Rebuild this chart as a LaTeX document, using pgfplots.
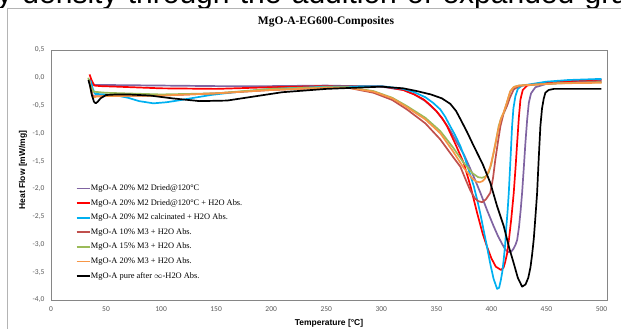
\documentclass[border=0pt]{standalone}
\usepackage{fontspec}
\setmainfont{Liberation Serif}
\newfontfamily\carlito{Carlito}
\newfontfamily\arial{Liberation Sans}
\usepackage{pgfplots}
\pgfplotsset{compat=1.18}
\definecolor{cpurple}{HTML}{8064A2}
\definecolor{cred}{HTML}{FF0000}
\definecolor{cblue}{HTML}{00B0F0}
\definecolor{cbrown}{HTML}{C0504D}
\definecolor{cgreen}{HTML}{9BBB59}
\definecolor{corange}{HTML}{F79646}
\definecolor{tickgray}{HTML}{595959}
\definecolor{boxgray}{HTML}{868686}
\definecolor{framegray}{HTML}{B4B4B4}
\begin{document}
\begin{tikzpicture}
\begin{scope}
\clip (0pt,321pt) rectangle (621pt,329pt);
\node[anchor=base west, inner sep=0pt, font=\arial\fontsize{30}{36}\selectfont] at (-3pt,325.7pt) {\spaceskip=10.3pt y density through the addition of expanded graphite};
\end{scope}
\draw[framegray, line width=1pt] (7.5pt,-20pt) -- (7.5pt,320.5pt) -- (660pt,320.5pt);
\begin{axis}[
  at={(51pt,29pt)}, anchor=south west,
  scale only axis, width=556pt, height=250pt,
  xmin=0, xmax=505, ymin=-4, ymax=0.5,
  xtick={0,50,...,500}, ytick={-4,-3.5,...,0.5},
  major tick length=0pt,
  axis line style={boxgray, line width=0.8pt},
  tick label style={font=\carlito\fontsize{7.5}{9}\selectfont, text=tickgray},
  /pgf/number format/assume math mode=true,
  yticklabel style={xshift=-3pt, /pgf/number format/fixed, /pgf/number format/fixed zerofill, /pgf/number format/precision=1, /pgf/number format/use comma},
  xticklabel style={yshift=-3pt, /pgf/number format/fixed, /pgf/number format/precision=0},
  title={MgO-A-EG600-Composites},
  title style={at={(axis description cs:0.4946,1.088)}, anchor=center, yshift=0pt, font=\bfseries\fontsize{11.5}{13}\selectfont},
  xlabel={Temperature [°C]},
  xlabel style={at={(axis description cs:0.5,-0.092)}, anchor=center, font=\arial\bfseries\fontsize{8.5}{10}\selectfont},
  ylabel={Heat Flow [mW/mg]},
  ylabel style={at={(axis description cs:-0.0504,0.52)}, anchor=center, font=\arial\bfseries\fontsize{8.5}{10}\selectfont},
  no markers,
  every axis plot/.append style={line width=1.7pt, line join=round},
  legend cell align=left,
  legend image code/.code={\draw[#1, line width=1.8pt] (0pt,0pt) -- (13pt,0pt);},
  legend style={at={(0.044,0.465)}, anchor=north west, draw=none, fill=none, inner sep=0pt,
    font=\fontsize{8.4}{10}\selectfont, row sep=5.6pt,
    nodes={inner sep=0.5pt, text height=6pt, text depth=2pt}},
]
\addplot[cpurple] coordinates {(35,-0.02) (38,-0.13) (50,-0.13) (100,-0.14) (150,-0.15) (200,-0.15) (250,-0.14) (300,-0.16) (320,-0.22) (330,-0.3) (340,-0.42) (350,-0.6) (357,-0.78) (362.7,-0.95) (368.8,-1.17) (375,-1.38) (380,-1.6) (385,-1.83) (390,-2.07) (396,-2.38) (402,-2.67) (406,-2.85) (410,-3.0) (413,-3.1) (415.8,-3.14) (418,-3.13) (420,-3.08) (422,-3.0) (423.4,-2.92) (425,-2.7) (426.5,-2.4) (427.9,-2.07) (429.5,-1.6) (430.9,-1.17) (432.5,-0.75) (434,-0.45) (436,-0.28) (440,-0.17) (450,-0.11) (470,-0.08) (500,-0.05)};
\addlegendentry{MgO-A 20\% M2 Dried@120°C}
\addplot[cred] coordinates {(35,0.06) (37,-0.05) (39.4,-0.14) (45,-0.15) (60,-0.16) (100,-0.19) (150,-0.2) (200,-0.17) (250,-0.15) (300,-0.15) (320,-0.22) (330,-0.3) (338.5,-0.39) (345,-0.5) (350,-0.6) (355,-0.72) (359.7,-0.87) (367,-1.18) (374.8,-1.53) (381,-1.95) (387,-2.43) (392,-2.8) (396,-3.04) (400,-3.25) (404,-3.4) (408.8,-3.46) (411,-3.42) (412.5,-3.32) (414.3,-3.16) (416,-2.9) (418,-2.55) (420.3,-2.07) (422,-1.6) (423.4,-1.17) (425,-0.7) (426.4,-0.39) (428.5,-0.22) (432.4,-0.14) (450,-0.08) (470,-0.06) (500,-0.03)};
\addlegendentry{MgO-A 20\% M2 Dried@120°C + H2O Abs.}
\addplot[cblue] coordinates {(36,-0.05) (38,-0.2) (40,-0.29) (50,-0.3) (60,-0.32) (70,-0.36) (80,-0.42) (93,-0.46) (105,-0.44) (115,-0.41) (130,-0.36) (145,-0.31) (162,-0.27) (200,-0.2) (250,-0.16) (300,-0.15) (320,-0.2) (330,-0.26) (340,-0.35) (347,-0.45) (353.6,-0.57) (358,-0.7) (362,-0.85) (367,-1.03) (371.8,-1.23) (376,-1.45) (380,-1.7) (384,-1.95) (387,-2.19) (390,-2.45) (393,-2.75) (396,-3.04) (399,-3.35) (402,-3.62) (405.2,-3.80) (407,-3.78) (408.5,-3.65) (410,-3.48) (411.2,-3.27) (412.5,-3.0) (413.5,-2.7) (414.7,-2.4) (415.8,-2.07) (417.5,-1.4) (418.8,-0.87) (420,-0.55) (421.8,-0.33) (424,-0.2) (427.9,-0.14) (450,-0.07) (470,-0.04) (500,-0.02)};
\addlegendentry{MgO-A 20\% M2 calcinated + H2O Abs.}
\addplot[cbrown] coordinates {(36,-0.15) (38,-0.33) (45,-0.33) (100,-0.32) (150,-0.28) (200,-0.22) (250,-0.18) (270,-0.18) (293,-0.27) (310,-0.4) (323.3,-0.57) (340,-0.82) (353.6,-1.11) (365,-1.42) (371.8,-1.6) (377,-1.85) (380.9,-2.03) (385,-2.17) (388,-2.22) (391.5,-2.24) (395,-2.19) (399,-2.07) (401.5,-1.8) (403.6,-1.47) (406,-1.15) (408.2,-0.87) (411,-0.65) (414.3,-0.5) (417,-0.35) (420.3,-0.21) (425,-0.15) (432,-0.13) (460,-0.1) (500,-0.07)};
\addlegendentry{MgO-A 10\% M3 + H2O Abs.}
\addplot[cgreen] coordinates {(33.8,0.0) (36,-0.15) (38.5,-0.25) (50,-0.27) (100,-0.3) (150,-0.28) (200,-0.2) (250,-0.17) (270,-0.17) (293,-0.24) (310,-0.36) (323.3,-0.51) (340,-0.72) (353.6,-0.96) (365,-1.25) (374.8,-1.53) (383,-1.72) (388,-1.79) (391.5,-1.80) (394.5,-1.78) (397.5,-1.71) (400,-1.55) (402,-1.35) (404.5,-1.1) (406.6,-0.87) (409,-0.72) (411.2,-0.63) (414,-0.45) (417.3,-0.24) (421,-0.16) (425,-0.14) (460,-0.1) (500,-0.08)};
\addlegendentry{MgO-A 15\% M3 + H2O Abs.}
\addplot[corange] coordinates {(35,-0.05) (36.5,-0.25) (37.9,-0.36) (41,-0.34) (50,-0.33) (100,-0.32) (150,-0.28) (200,-0.22) (250,-0.18) (270,-0.18) (293,-0.25) (310,-0.37) (323.3,-0.53) (340,-0.75) (353.6,-1.0) (365,-1.32) (374.8,-1.62) (383,-1.82) (386.5,-1.87) (389.4,-1.88) (392,-1.86) (394,-1.82) (397,-1.7) (399,-1.6) (402,-1.35) (406,-0.95) (408.5,-0.75) (411,-0.63) (414,-0.45) (417,-0.25) (420,-0.17) (425,-0.14) (460,-0.1) (500,-0.09)};
\addlegendentry{MgO-A 20\% M3 + H2O Abs.}
\addplot[black] coordinates {(34,-0.04) (35.5,-0.15) (37,-0.3) (39,-0.43) (40.6,-0.46) (42.5,-0.43) (45,-0.37) (50,-0.31) (60,-0.3) (70,-0.3) (90,-0.32) (110,-0.37) (135,-0.42) (160,-0.41) (180,-0.35) (210,-0.26) (250,-0.2) (300,-0.16) (320,-0.19) (332.4,-0.24) (345,-0.3) (355,-0.37) (362.7,-0.47) (368,-0.6) (372,-0.75) (378,-0.98) (384,-1.23) (392,-1.55) (399,-1.89) (405,-2.3) (411.2,-2.67) (416,-3.05) (420.3,-3.34) (424,-3.6) (427.9,-3.76) (431,-3.72) (433.5,-3.6) (435.5,-3.41) (437,-3.18) (438.5,-2.9) (440,-2.5) (441.5,-2.08) (443,-1.45) (444.5,-0.87) (446,-0.55) (447.5,-0.38) (449,-0.27) (452,-0.22) (456.7,-0.2) (500,-0.2)};
\addlegendentry{MgO-A pure after $\infty$-H2O Abs.}
\end{axis}
\pgfresetboundingbox
\useasboundingbox (0pt,0pt) rectangle (621pt,329pt);
\end{tikzpicture}
\end{document}
